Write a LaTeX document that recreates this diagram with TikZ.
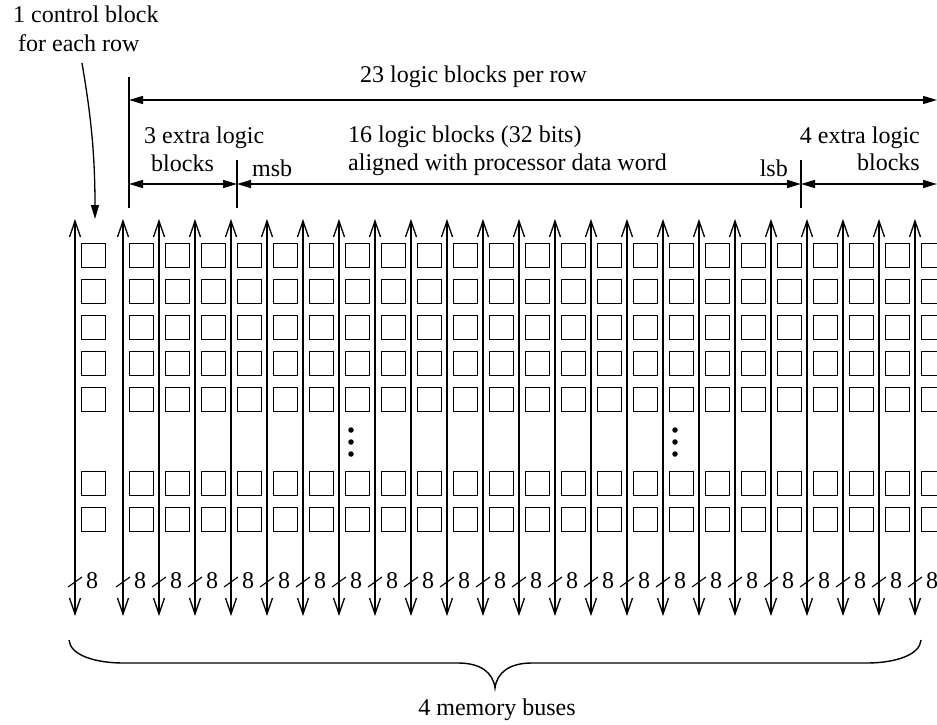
\documentclass[tikz,border=0pt]{standalone}
\usepackage{fontspec}
\setmainfont{Liberation Serif}
\usetikzlibrary{arrows.meta}
\begin{document}
\begin{tikzpicture}[x=1pt,y=-1pt,
  every node/.style={inner sep=0pt,font=\fontsize{24}{28}\selectfont},
  busline/.style={line width=1.3pt,{Straight Barb[length=16pt,width=11pt,line width=1.3pt]}-{Straight Barb[length=16pt,width=11pt,line width=1.3pt]}},
  blk/.style={draw,line width=1.2pt,minimum size=24.5pt,rectangle},
  dimline/.style={line width=1.3pt},
  dimarrow/.style={line width=1.3pt,{Triangle[length=14pt,width=8pt]}-{Triangle[length=14pt,width=8pt]}},
  ptrarrow/.style={line width=1.3pt,-{Triangle[length=14pt,width=8pt]}},
  slash/.style={line width=1.1pt},
  braceline/.style={line width=1.4pt},
  lbl/.style={anchor=base west},
  dot/.style={fill,circle,minimum size=5.5pt,inner sep=0pt}
]
\useasboundingbox (0,0) rectangle (937,725);
\clip (0,0) rectangle (937,725);

% top texts
\node[lbl] (ctrlA) at (13,23) {1 control block};
\node[lbl] (ctrlB) at (18,52) {for each row};
\node[lbl] (total) at (360,82) {23 logic blocks per row};
\node[lbl] (xtraA) at (144,143) {3 extra logic};
\node[lbl] (xtraB) at (151,171) {blocks};
\node[lbl] (msb) at (252,176) {msb};
\node[lbl] (wordA) at (348,142) {16 logic blocks (32 bits)};
\node[lbl] (wordB) at (348,170) {aligned with processor data word};
\node[anchor=base east] (lsb) at (788,176) {lsb};
\node[anchor=base east] (xtrC) at (920,143) {4 extra logic};
\node[anchor=base east] (xtrD) at (920,170) {blocks};

% dimension coordinates
\coordinate (vA1) at (129,77);
\coordinate (vA2) at (129,208);
\coordinate (vB1) at (237,160);
\coordinate (vB2) at (237,208);
\coordinate (vC1) at (801,160);
\coordinate (vC2) at (801,208);
\coordinate (tL) at (129,100);
\coordinate (tR) at (937,100);
\coordinate (dA) at (129,184);
\coordinate (dB) at (237,184);
\coordinate (dC) at (801,184);
\coordinate (dD) at (937,184);
\draw[dimline] (vA1) -- (vA2);
\draw[dimline] (vB1) -- (vB2);
\draw[dimline] (vC1) -- (vC2);
\draw[dimarrow] (tL) -- (tR);
\draw[dimarrow] (dA) -- (dB);
\draw[dimarrow] (dB) -- (dC);
\draw[dimarrow] (dC) -- (dD);

% pointer to control block
\coordinate (ps) at (82,63);
\coordinate (pe) at (95,219);
\draw[ptrarrow] (ps) .. controls (90,110) and (95,150) .. (pe);

% buses
\foreach \k in {0,...,23}{
  \pgfmathsetmacro{\bx}{\k==0 ? 75 : 123+36*(\k-1)}
  \coordinate (bt\k) at (\bx,219);
  \coordinate (bb\k) at (\bx,616);
  \draw[busline] (bt\k) -- (bb\k);
  \coordinate (sl\k) at (\bx-7,587);
  \coordinate (sr\k) at (\bx+7,577);
  \draw[slash] (sl\k) -- (sr\k);
  \node[lbl] (w\k) at (\bx+11,588) {8};
  \foreach \r/\ry in {1/255.5,2/291.5,3/327.5,4/363.5,5/399.5,6/483.5,7/519.5}{
    \node[blk] (b\k-\r) at (\bx+18.5,\ry) {};
  }
}

% ellipsis dots
\foreach \k/\dx in {7/351,16/675}{
  \node[dot] (da\k) at (\dx,430) {};
  \node[dot] (db\k) at (\dx,442) {};
  \node[dot] (dc\k) at (\dx,454) {};
}

% brace
\draw[braceline] (69,640) .. controls (70,655) and (95,663) .. (123,663)
  -- (458,663) .. controls (480,663) and (493,672) .. (495,688)
  .. controls (497,672) and (510,663) .. (532,663)
  -- (867,663) .. controls (895,663) and (920,655) .. (921,640);
\node[anchor=base] (mem) at (497,715) {4 memory buses};
\end{tikzpicture}
\end{document}
